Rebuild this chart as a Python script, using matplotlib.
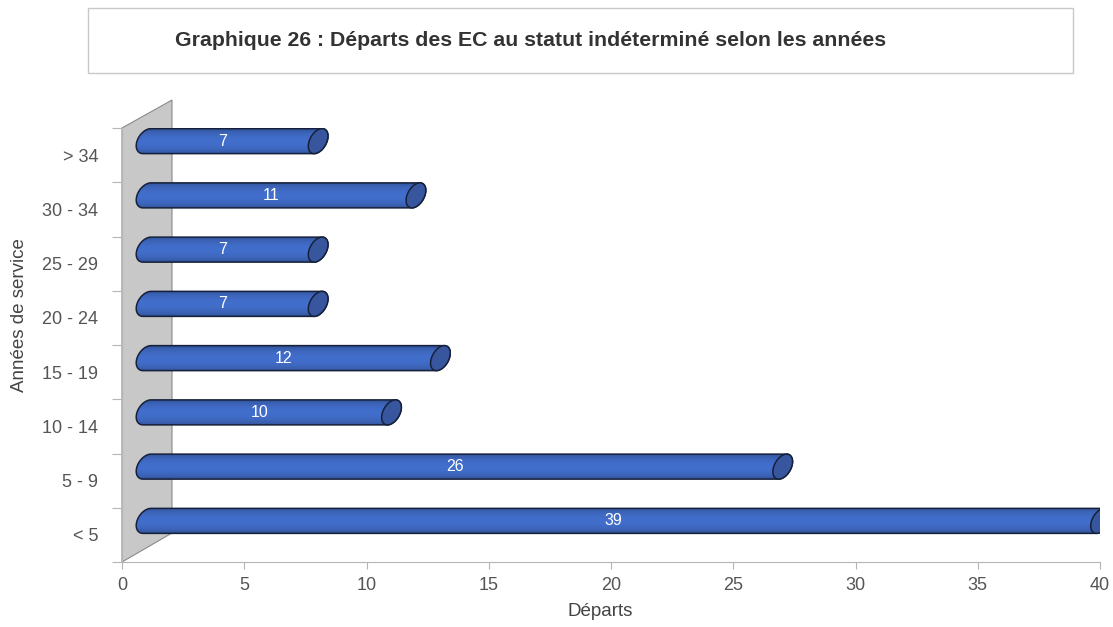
import matplotlib.pyplot as plt
import matplotlib.transforms as mtransforms
from matplotlib.patches import Polygon, Rectangle
import numpy as np

plt.rcParams['font.family'] = ['Liberation Sans', 'DejaVu Sans']

categories = ['< 5', '5 - 9', '10 - 14', '15 - 19', '20 - 24', '25 - 29', '30 - 34', '> 34']
departs = [39, 26, 10, 12, 7, 7, 11, 7]

title = 'Graphique 26 : Départs des EC au statut indéterminé selon les années'

fig = plt.figure(figsize=(11.13, 6.27), dpi=100)
ax = fig.add_axes([122 / 1113, 1 - 562 / 627, (1100 - 122) / 1113, (562 - 128) / 627])

# title box
fig.patches.append(Rectangle((88 / 1113, 1 - 73 / 627), 985 / 1113, 65 / 627,
                             transform=fig.transFigure, facecolor='white',
                             edgecolor='#c8c8c8', linewidth=1.0))
fig.text(175 / 1113, 1 - 41 / 627, title, fontsize=15.3, fontweight='bold',
         color='#333333', va='center', ha='left')

ax.set_xlim(0, 40)
ax.set_ylim(-0.5, 7.5)

# grey back wall
px_x = 40 / (1100 - 122)
px_y = 8 / (562 - 128)
wall_w = 50 * px_x
wall = Polygon([(0, -0.5), (wall_w, -0.5 + 29 * px_y), (wall_w, 7.5 + 28 * px_y), (0, 7.5)],
               closed=True, facecolor='#c8c8c8', edgecolor='#8a8a8a', linewidth=0.8,
               clip_on=False, zorder=1)
ax.add_patch(wall)

# bars are shifted back in depth
off = mtransforms.offset_copy(ax.transData, fig=fig, x=25, y=14, units='dots')
off_txt = mtransforms.offset_copy(ax.transData, fig=fig, x=15, y=14, units='dots')

b = 12.5   # half bar height, px
k = 0.32   # shear of the bar ends
ry = b * px_y
grad = np.linspace(0, 1, 64)
shade = 0.78 + 0.3 * np.sin(np.pi * grad) ** 0.6
base = np.array([0.24, 0.40, 0.74])
img = np.clip(base[None, :] * shade[:, None], 0, 1)[:, None, :]


def sheared_arc(cx, cy, a, s):
    # ellipse in pixels sheared sideways, returned in data units
    ex = a * np.cos(s) + k * b * np.sin(s)
    ey = b * np.sin(s)
    return np.column_stack([cx + ex * px_x, cy + ey * px_y])


for i, v in enumerate(departs):
    left = sheared_arc(0, i, 10, np.linspace(np.pi / 2, 3 * np.pi / 2, 40))
    right = sheared_arc(v, i, 9, np.linspace(-np.pi / 2, np.pi / 2, 40))
    pts = np.vstack([left, right])
    body = Polygon(pts, closed=True, transform=off, facecolor='none',
                   edgecolor='#16203a', linewidth=1.1, zorder=3)
    ax.add_patch(body)
    im = ax.imshow(img, extent=[-1, v + 1, i - ry, i + ry], transform=off,
                   aspect='auto', origin='upper', zorder=2)
    im.set_clip_path(body)
    end = sheared_arc(v, i, 9, np.linspace(0, 2 * np.pi, 80))
    ax.add_patch(Polygon(end, closed=True, transform=off, facecolor='#38569e',
                         edgecolor='#16203a', linewidth=1.1, zorder=4))
    ax.text(v / 2, i, str(v), transform=off_txt, ha='center', va='center',
            color='white', fontsize=11.5, zorder=5)

ax.set_xlim(0, 40)
ax.set_ylim(-0.5, 7.5)

for s in ['top', 'right']:
    ax.spines[s].set_visible(False)
for s in ['left', 'bottom']:
    ax.spines[s].set_color('#b5b5b5')
    ax.spines[s].set_linewidth(0.8)
    ax.spines[s].set_zorder(6)

ax.set_xticks(np.arange(0, 41, 5))
ax.tick_params(axis='x', colors='#b5b5b5', labelcolor='#555555', labelsize=13,
               length=5, pad=6)
ax.set_yticks(np.arange(-0.5, 8, 1))
ax.set_yticklabels([])
ax.set_yticks(np.arange(len(categories)), minor=True)
ax.set_yticklabels(categories, minor=True)
ax.tick_params(axis='y', which='major', colors='#b5b5b5', length=7)
ax.tick_params(axis='y', which='minor', length=0, labelcolor='#555555',
               labelsize=13, pad=17)

ax.set_xlabel('Départs', fontsize=13.5, color='#444444')
ax.set_ylabel('Années de service', fontsize=13.5, color='#444444')
ax.xaxis.set_label_coords((600 - 122) / (1100 - 122), -(603 - 562) / (562 - 128))
ax.yaxis.set_label_coords(-(122 - 28) / (1100 - 122), (562 - 315) / (562 - 128))

fig.savefig('out.png', dpi=100)
